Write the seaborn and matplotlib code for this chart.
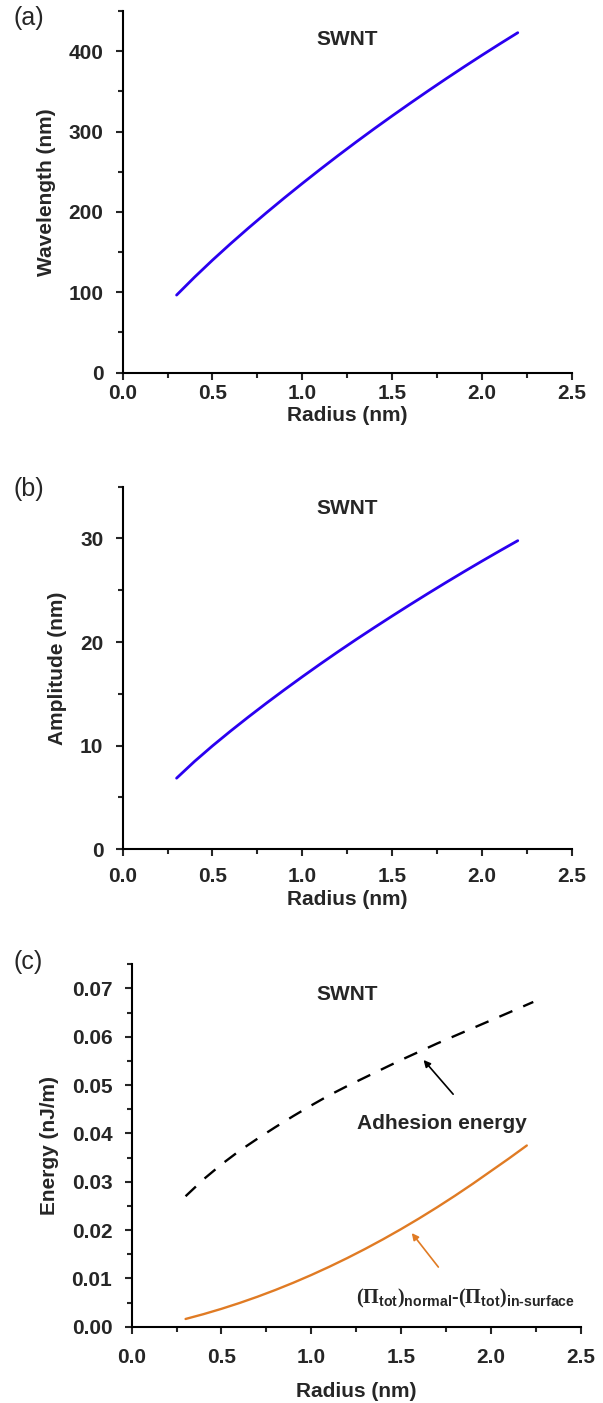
import pandas as pd
import numpy as np
import matplotlib
matplotlib.use('Agg')
import matplotlib.pyplot as plt
import seaborn as sns
from matplotlib.ticker import AutoMinorLocator, MultipleLocator, FormatStrFormatter

# values
radius = [0.3, 0.4, 0.5, 0.6, 0.7, 0.8, 0.9, 1.0, 1.1, 1.2, 1.3,
          1.4, 1.5, 1.6, 1.7, 1.8, 1.9, 2.0, 2.1, 2.2]
wavelength = [96.5, 118.8, 140.0, 160.3, 179.9, 198.9, 217.4, 235.4, 253.0, 270.2, 287.0,
              303.4, 319.4, 335.1, 350.5, 365.6, 380.4, 394.9, 409.1, 423.0]
amplitude = [6.86, 8.48, 9.98, 11.40, 12.77, 14.10, 15.39, 16.65, 17.88, 19.08, 20.25,
             21.39, 22.51, 23.61, 24.69, 25.75, 26.79, 27.81, 28.81, 29.79]

radius_adh = [0.3, 0.4, 0.5, 0.6, 0.7, 0.8, 0.9, 1.0, 1.1, 1.2, 1.3,
              1.4, 1.5, 1.6, 1.7, 1.8, 1.9, 2.0, 2.1, 2.236]
adhesion = [0.0270, 0.0305, 0.0336, 0.0364, 0.0389, 0.0413, 0.0436, 0.0458, 0.0479, 0.0498, 0.0516,
            0.0534, 0.0552, 0.0569, 0.0586, 0.0602, 0.0618, 0.0634, 0.0650, 0.0672]

pi_diff = [0.0016, 0.0026, 0.0037, 0.0049, 0.0062, 0.0076, 0.0091, 0.0107, 0.0124, 0.0142, 0.0161,
           0.0181, 0.0202, 0.0224, 0.0247, 0.0271, 0.0296, 0.0322, 0.0348, 0.0375]

sns.set_style('ticks')
plt.rcParams['font.family'] = ['Liberation Sans', 'DejaVu Sans']
plt.rcParams['mathtext.fontset'] = 'custom'
plt.rcParams['mathtext.rm'] = 'Liberation Serif:bold'
plt.rcParams['mathtext.bf'] = 'Liberation Sans:bold'
plt.rcParams['mathtext.it'] = 'Liberation Sans:bold'

fs = 15
blue = '#2a00f0'
orange = '#e07b24'

fig = plt.figure(figsize=(6.03, 14.03), dpi=100)
ax_a = fig.add_axes([0.2035, 0.7344, 0.948 - 0.2035, 0.99216 - 0.7344])
ax_b = fig.add_axes([0.2035, 0.3947, 0.948 - 0.2035, 0.6531 - 0.3947])
ax_c = fig.add_axes([0.2184, 0.05438, 0.963 - 0.2184, 0.3127 - 0.05438])

df_a = pd.DataFrame({'r': radius, 'v': wavelength})
df_b = pd.DataFrame({'r': radius, 'v': amplitude})
df_adh = pd.DataFrame({'r': radius_adh, 'v': adhesion})
df_pi = pd.DataFrame({'r': radius, 'v': pi_diff})

sns.lineplot(data=df_a, x='r', y='v', ax=ax_a, color=blue, lw=2.0)
sns.lineplot(data=df_b, x='r', y='v', ax=ax_b, color=blue, lw=2.0)
sns.lineplot(data=df_adh, x='r', y='v', ax=ax_c, color='black', lw=1.7)
ax_c.lines[-1].set_dashes((6, 5))
sns.lineplot(data=df_pi, x='r', y='v', ax=ax_c, color=orange, lw=1.7)

ax_a.set_ylim(0, 450)
ax_a.yaxis.set_major_locator(MultipleLocator(100))
ax_a.set_ylabel('Wavelength (nm)', fontsize=fs, fontweight='bold', labelpad=9)
ax_b.set_ylim(0, 35)
ax_b.yaxis.set_major_locator(MultipleLocator(10))
ax_b.set_ylabel('Amplitude (nm)', fontsize=fs, fontweight='bold', labelpad=9)
ax_c.set_ylim(0, 0.075)
ax_c.yaxis.set_major_locator(MultipleLocator(0.01))
ax_c.yaxis.set_major_formatter(FormatStrFormatter('%.2f'))
ax_c.set_ylabel('Energy (nJ/m)', fontsize=fs, fontweight='bold', labelpad=9)

# tick label pad and x label pad differ a little per panel
pads = {ax_a: (3.2, 2.5), ax_b: (7.5, 3.0), ax_c: (10, 11.2)}

for ax in (ax_a, ax_b, ax_c):
    ax.set_xlim(0, 2.5)
    ax.xaxis.set_major_locator(MultipleLocator(0.5))
    ax.xaxis.set_major_formatter(FormatStrFormatter('%.1f'))
    ax.xaxis.set_minor_locator(AutoMinorLocator(2))
    ax.yaxis.set_minor_locator(AutoMinorLocator(2))
    ax.set_xlabel('Radius (nm)', fontsize=fs, fontweight='bold', labelpad=pads[ax][1])
    ax.tick_params(which='major', direction='out', length=5, width=1.5, labelsize=fs)
    ax.tick_params(axis='x', which='major', pad=pads[ax][0])
    ax.tick_params(axis='y', which='major', pad=9)
    ax.tick_params(which='minor', direction='out', length=3.3, width=1.5)
    for lab in ax.get_xticklabels() + ax.get_yticklabels():
        lab.set_fontweight('bold')
    sns.despine(ax=ax)
    for s in ('left', 'bottom'):
        ax.spines[s].set_linewidth(1.5)
        ax.spines[s].set_color('black')

ax_a.text(1.25, 415, 'SWNT', fontsize=fs, fontweight='bold', ha='center', va='center')
ax_b.text(1.25, 32.9, 'SWNT', fontsize=fs, fontweight='bold', ha='center', va='center')
ax_c.text(1.2, 0.0688, 'SWNT', fontsize=fs, fontweight='bold', ha='center', va='center')

ax_c.text(1.726, 0.042, 'Adhesion energy', fontsize=fs, fontweight='bold', ha='center', va='center')
ax_c.annotate('', xy=(1.615, 0.05563), xytext=(1.80, 0.04768),
              arrowprops=dict(arrowstyle='-|>', color='black', lw=1.2, mutation_scale=10))
ax_c.annotate('', xy=(1.55, 0.01983), xytext=(1.717, 0.01189),
              arrowprops=dict(arrowstyle='-|>', color=orange, lw=1.2, mutation_scale=10))
ax_c.text(1.856, 0.0058,
          r'$\mathrm{(\Pi}_{\mathbf{tot}}\mathrm{)}_{\mathbf{normal}}\mathbf{‐}\mathrm{(\Pi}_{\mathbf{tot}}\mathrm{)}_{\mathbf{in‐surface}}$',
          fontsize=14.5, ha='center', va='center')

fig.text(0.0216, 1 - 18 / 1403, '(a)', fontsize=18, ha='left', va='center')
fig.text(0.0216, 1 - 489 / 1403, '(b)', fontsize=18, ha='left', va='center')
fig.text(0.0216, 1 - 962 / 1403, '(c)', fontsize=18, ha='left', va='center')

fig.savefig('out.png', dpi=100)
